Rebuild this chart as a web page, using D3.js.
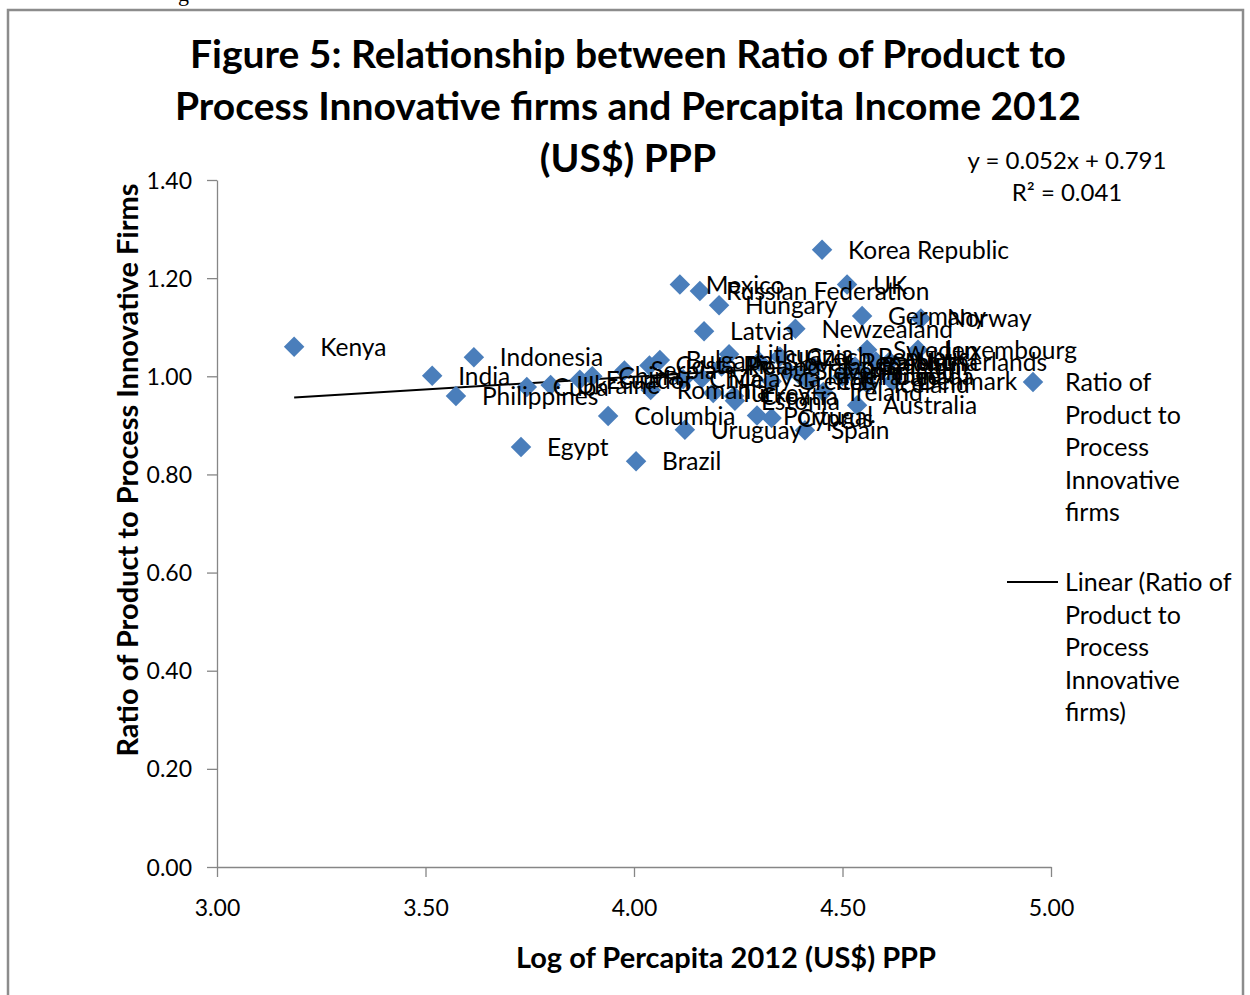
<!DOCTYPE html>
<html>
<head>
<meta charset="utf-8">
<script src="https://cdn.jsdelivr.net/npm/d3@7"></script>
<style>
  html, body { margin: 0; padding: 0; background: #fff; }
  svg { display: block; font-family: Lato, "Open Sans", sans-serif; }
</style>
</head>
<body>
<svg id="chart" width="1250" height="995"></svg>
<script>
// Countries, log of per-capita income 2012 (US$ PPP) and product/process innovation ratio
const countries = ["Kenya","India","Indonesia","Philippines","Egypt","Cuba","Ukraine","Ecuador","China",
  "Columbia","Serbia","Brazil","Costa Rica","Bulgaria","Romania","Chile","Uruguay","Mexico",
  "Russian Federation","Latvia","Hungary","Turkey","Malaysia","Croatia","Lithuania","Poland","Estonia",
  "Slovak Republic","Czech Republic","Portugal","Cyprus","Slovenia","Greece","Spain","Newzealand",
  "Korea Republic","Italy","Israel","Ireland","Japan","France","Finland","Belgium","UK","Germany",
  "Australia","Canada","Austria","Sweden","Iceland","Denmark","Netherlands","Norway","Luxembourg"];
const logIncome = [3.185,3.516,3.616,3.573,3.729,3.743,3.800,3.870,3.900,
  3.938,3.977,4.005,4.037,4.062,4.040,4.118,4.122,4.110,
  4.158,4.168,4.204,4.190,4.163,4.240,4.228,4.210,4.242,
  4.300,4.350,4.295,4.330,4.370,4.330,4.410,4.387,
  4.451,4.420,4.400,4.454,4.430,4.500,4.520,4.530,4.511,4.547,
  4.535,4.560,4.580,4.559,4.560,4.620,4.613,4.688,4.681];
const ratio = [1.060,1.001,1.039,0.960,0.856,0.978,0.982,0.993,1.000,
  0.919,1.012,0.827,1.022,1.033,0.972,0.994,0.891,1.187,
  1.174,1.092,1.145,0.966,0.996,0.960,1.045,1.020,0.950,
  1.030,1.040,0.920,0.915,1.010,0.990,0.890,1.097,
  1.258,0.990,1.000,0.968,1.020,1.000,1.010,1.020,1.187,1.123,
  0.941,1.000,1.030,1.054,0.985,0.990,1.030,1.118,1.054];
const xTicks = [3.0, 3.5, 4.0, 4.5, 5.0];
const yTicks = [0.0, 0.2, 0.4, 0.6, 0.8, 1.0, 1.2, 1.4];
const trendSlope = 0.052, trendIntercept = 0.791, rSquared = 0.041;
const titleLines = ["Figure 5: Relationship between Ratio of Product to",
  "Process Innovative firms and Percapita Income 2012", "(US$) PPP"];
const seriesName = ["Ratio of", "Product to", "Process", "Innovative", "firms"];
const trendName = ["Linear (Ratio of", "Product to", "Process", "Innovative", "firms)"];

const svg = d3.select("#chart");
const blue = "#4a7ebb";

// outer chart frame
svg.append("rect").attr("x", 8).attr("y", 10).attr("width", 1235).attr("height", 1000)
  .attr("fill", "none").attr("stroke", "#8c8c8c").attr("stroke-width", 2.5);
// clipped caption descender above the frame
svg.append("text").attr("x", 178).attr("y", 1).attr("font-family", "Liberation Serif, serif")
  .attr("font-size", 22).text("g");

const x = d3.scaleLinear().domain([3, 5]).range([217, 1051]);
const y = d3.scaleLinear().domain([0, 1.4]).range([867, 180]);

// title
svg.append("g").selectAll("text").data(titleLines).join("text")
  .attr("x", 628).attr("y", (d, i) => 68 + i * 52)
  .attr("text-anchor", "middle").attr("font-weight", "bold").attr("font-size", 39)
  .attr("fill", "#000").text(d => d);

// axes
const xAxis = svg.append("g").attr("transform", "translate(0,867)")
  .call(d3.axisBottom(x).tickValues(xTicks).tickFormat(d3.format(".2f")).tickSize(10).tickSizeOuter(0));
const yAxis = svg.append("g").attr("transform", "translate(217,0)")
  .call(d3.axisLeft(y).tickValues(yTicks).tickFormat(d3.format(".2f")).tickSize(10).tickSizeOuter(0));
[xAxis, yAxis].forEach(a => {
  a.select(".domain").attr("stroke", "#868686").attr("stroke-width", 1.3);
  a.selectAll(".tick line").attr("stroke", "#868686").attr("stroke-width", 1.3);
  a.selectAll(".tick text").attr("font-family", "Lato, sans-serif").attr("font-size", 23).attr("fill", "#000");
});
xAxis.selectAll(".tick text").attr("dy", "1.55em");
yAxis.selectAll(".tick text").attr("x", -25).attr("dy", "0.35em");

// axis titles
svg.append("text").attr("x", 726).attr("y", 968).attr("text-anchor", "middle")
  .attr("font-weight", "bold").attr("font-size", 29).text("Log of Percapita 2012 (US$) PPP");
svg.append("text").attr("transform", "translate(138,470) rotate(-90)").attr("text-anchor", "middle")
  .attr("font-weight", "bold").attr("font-size", 29).text("Ratio of Product to Process Innovative Firms");

// linear trend line over the data range
const [xmin, xmax] = d3.extent(logIncome);
const trend = [xmin, xmax].map(v => [x(v), y(trendSlope * v + trendIntercept)]);
svg.append("path").attr("d", d3.line()(trend)).attr("stroke", "#000").attr("stroke-width", 2).attr("fill", "none");

// markers
const data = countries.map((c, i) => ({ name: c, lx: logIncome[i], r: ratio[i] }));
const diamond = d3.symbol().type(d3.symbolSquare).size(210);
svg.append("g").selectAll("path").data(data).join("path")
  .attr("d", diamond)
  .attr("transform", d => `translate(${x(d.lx)},${y(d.r)}) rotate(45)`)
  .attr("fill", blue);

// data labels
svg.append("g").selectAll("text").data(data).join("text")
  .attr("x", d => x(d.lx) + 26).attr("y", d => y(d.r) + 9)
  .attr("font-size", 24.5).attr("fill", "#000").text(d => d.name);

// equation
svg.append("text").attr("x", 1067).attr("y", 169).attr("text-anchor", "middle").attr("font-size", 24)
  .text(`y = ${trendSlope.toFixed(3)}x + ${trendIntercept.toFixed(3)}`);
svg.append("text").attr("x", 1067).attr("y", 201).attr("text-anchor", "middle").attr("font-size", 24)
  .text(`R² = ${rSquared.toFixed(3)}`);

// legend
const lg = svg.append("g");
lg.append("path").attr("d", diamond).attr("transform", "translate(1033,382) rotate(45)").attr("fill", blue);
lg.selectAll("text.s").data(seriesName).join("text").attr("class", "s")
  .attr("x", 1065).attr("y", (d, i) => 391 + i * 32.5).attr("font-size", 25).text(d => d);
lg.append("line").attr("x1", 1007).attr("x2", 1058).attr("y1", 582).attr("y2", 582)
  .attr("stroke", "#000").attr("stroke-width", 2);
lg.selectAll("text.t").data(trendName).join("text").attr("class", "t")
  .attr("x", 1065).attr("y", (d, i) => 591 + i * 32.5).attr("font-size", 25).text(d => d);
</script>
</body>
</html>
